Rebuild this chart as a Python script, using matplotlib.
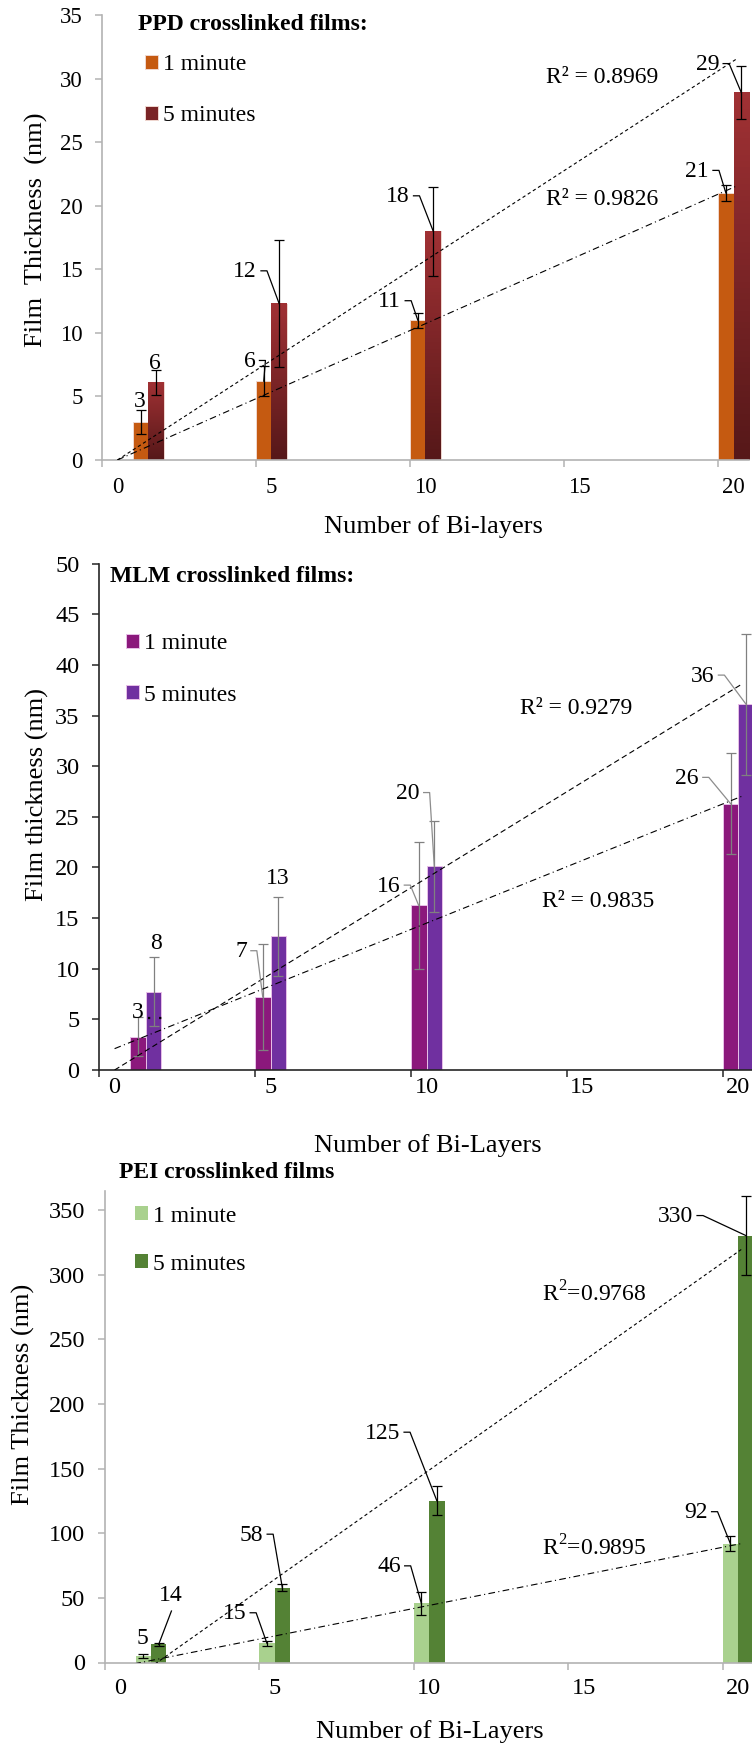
import matplotlib
matplotlib.use("Agg")
from matplotlib import pyplot as plt
from matplotlib.colors import LinearSegmentedColormap
import numpy as np

plt.rcParams['font.family'] = ['Liberation Serif', 'DejaVu Serif']
plt.rcParams['mathtext.fontset'] = 'custom'
plt.rcParams['mathtext.rm'] = 'Liberation Serif'

# data
bilayers = [1, 5, 10, 20]
x_ticks = [0, 5, 10, 15, 20]
series_names = ["1 minute", "5 minutes"]

ppd_1min = [3.0, 6.2, 11.0, 21.0]
ppd_1min_err = [0.95, 1.2, 0.6, 0.6]
ppd_5min = [6.1, 12.3, 18.0, 28.9]
ppd_5min_err = [0.95, 5.0, 3.5, 2.1]
ppd_r2 = ["0.9826", "0.8969"]

mlm_1min = [3.3, 7.2, 16.25, 26.3]
mlm_1min_err = [1.9, 5.2, 6.3, 5.0]
mlm_5min = [7.75, 13.2, 20.1, 36.1]
mlm_5min_err = [3.45, 3.9, 4.5, 7.0]
mlm_r2 = ["0.9835", "0.9279"]

pei_1min = [5.0, 15.0, 45.8, 91.9]
pei_1min_err = [1.5, 2.0, 9.0, 6.0]
pei_5min = [14.0, 58.0, 125.2, 330.3]
pei_5min_err = [1.0, 2.5, 11.0, 30.5]
pei_r2 = ["0.9895", "0.9768"]

W, H = 752, 1748
fig = plt.figure(figsize=(W / 100, H / 100), dpi=100)
fig.patch.set_facecolor('white')


def px_shift(ax, x, y, dx, dy):
    d = ax.transData.transform((x, y)) + np.array([dx, dy])
    return ax.transData.inverted().transform(d)


def draw_panel(rect, one, one_err, five, five_err, r2, cfg):
    l, t, w, h = rect
    ax = fig.add_axes([l / W, 1 - (t + h) / H, w / W, h / H])
    ax.set_xlim(0, 21)
    ax.set_ylim(0, cfg['ytop'])

    k = np.array(bilayers, float)
    bw = 0.5
    b1 = ax.bar(k, one, bw, align='edge', color=cfg['c1'],
                edgecolor=cfg['edge'], linewidth=0.7, zorder=2)
    b2 = ax.bar(k + bw, five, bw, align='edge', color=cfg['c2'],
                edgecolor=cfg['edge'], linewidth=0.7, zorder=2)
    if cfg.get('grad'):
        cmap = LinearSegmentedColormap.from_list('g', cfg['grad'])
        grad = np.linspace(0, 1, 64).reshape(-1, 1)
        for bar in b2:
            x0, y0 = bar.get_xy()
            ax.imshow(grad, cmap=cmap, origin='lower', aspect='auto',
                      extent=[x0, x0 + bar.get_width(), 0, bar.get_height()],
                      zorder=2.1)
        ax.set_xlim(0, 21)
        ax.set_ylim(0, cfg['ytop'])

    ax.errorbar(k + 0.25, one, yerr=one_err, fmt='none', ecolor=cfg['ecol'],
                elinewidth=0.9, capsize=3.5, capthick=0.9, zorder=3)
    ax.errorbar(k + 0.75, five, yerr=five_err, fmt='none', ecolor=cfg['ecol'],
                elinewidth=0.9, capsize=3.5, capthick=0.9, zorder=3)

    # linear trendlines
    kk = np.array([0.0, 20.1])
    for vals, origin, ls in zip((one, five), cfg['origin'], cfg['ls']):
        y = np.array(vals)
        if origin:
            slope, icpt = (k @ y) / (k @ k), 0.0
        else:
            slope, icpt = np.polyfit(k, y, 1)
        ax.plot(kk + 0.5, icpt + slope * kk, color='black', lw=0.8,
                ls=ls, zorder=4)

    # R² labels
    for txt, (rx, ry) in zip(r2, cfg['r2pos']):
        ax.text(rx, ry, cfg['r2fmt'].format(txt), ha='left', va='center',
                fontsize=17, zorder=5)

    # data labels with leader lines
    for vals, specs, off in ((one, cfg['labels'][0], 0.25),
                             (five, cfg['labels'][1], 0.75)):
        for kv, v, (kind, tx, ty) in zip(bilayers, vals, specs):
            top = (kv + off, v)
            s = f"{v:.0f}"
            if kind == 'stub':
                ax.text(tx, ty, s, ha='right', va='center', fontsize=17, zorder=5)
                p0 = px_shift(ax, tx, ty, 4, 1)
                p1 = px_shift(ax, tx, ty, 10, 1)
                ax.plot([p0[0], p1[0], top[0]], [p0[1], p1[1], top[1]],
                        color=cfg['lead'], lw=0.9, zorder=5)
            else:
                ax.text(tx, ty, s, ha='center', va='center', fontsize=17, zorder=5)
            if kind == 'dots':
                p0 = px_shift(ax, tx, ty, 10, -5)
                p1 = px_shift(ax, tx, ty, 28, -5)
                ax.plot([p0[0], p1[0]], [p0[1], p1[1]], color='black',
                        lw=1.6, ls=(0, (1, 4)), zorder=5)
            if kind == 'line':
                p0 = px_shift(ax, tx, ty, 1, -16)
                ax.plot([p0[0], top[0]], [p0[1], top[1]], color=cfg['lead'],
                        lw=0.9, zorder=5)

    # axes styling
    for side in ('top', 'right'):
        ax.spines[side].set_visible(False)
    for side in ('left', 'bottom'):
        ax.spines[side].set_color(cfg['axc'])
        ax.spines[side].set_linewidth(1.2)
    ax.set_yticks(np.arange(0, cfg['ytop'] + 0.01, cfg['ystep']))
    ax.set_xticks(x_ticks)
    ax.set_xticklabels([])
    ax.set_xticks([v + 0.5 for v in x_ticks], minor=True)
    ax.set_xticklabels([str(v) for v in x_ticks], minor=True)
    ax.tick_params(axis='both', which='major', direction='out', length=5,
                   width=1.1, color=cfg['axc'], labelsize=cfg['tfs'])
    ax.tick_params(axis='y', pad=9)
    ax.tick_params(axis='x', which='minor', length=0, labelsize=cfg['tfs'],
                   pad=cfg['xpad'])

    leg = ax.legend([b1, b2], series_names, loc='upper left',
                    bbox_to_anchor=(cfg['leg'][0] / W, 1 - cfg['leg'][1] / H),
                    bbox_transform=fig.transFigure, frameon=False, fontsize=17,
                    handlelength=0.55, handleheight=0.55, handletextpad=0.2,
                    labelspacing=cfg['lsp'], borderpad=0, borderaxespad=0)
    leg.set_zorder(6)

    fig.text(cfg['title_xy'][0] / W, 1 - cfg['title_xy'][1] / H, cfg['title'],
             ha='left', va='center', fontsize=17, fontweight='bold')
    fig.text(cfg['xl_xy'][0] / W, 1 - cfg['xl_xy'][1] / H, cfg['xlabel'],
             ha='center', va='center', fontsize=19)
    fig.text(cfg['yl_xy'][0] / W, 1 - cfg['yl_xy'][1] / H, cfg['ylabel'],
             ha='center', va='center', fontsize=19, rotation=90)
    return ax


draw_panel((102, 15, 647, 445), ppd_1min, ppd_1min_err, ppd_5min, ppd_5min_err,
           ppd_r2, dict(
               ytop=35, ystep=5, c1='#C55A11', c2='#7A2426',
               grad=['#561819', '#A03134'], edge='#F0D8D0',
               ecol='black', lead='black', axc='#B3B3B3',
               origin=(True, True), ls=((0, (6, 3, 1, 3)), (0, (3, 2.5))),
               r2pos=[(14.4, 20.45), (14.4, 30.1)], r2fmt="R² = {}",
               labels=[[('plain', 1.23, 4.6), ('stub', 4.98, 7.75),
                        ('stub', 9.71, 12.45), ('stub', 19.7, 22.7)],
                       [('plain', 1.72, 7.6), ('stub', 5.03, 14.8),
                        ('stub', 9.98, 20.7), ('stub', 20.03, 31.1)]],
               tfs=16.5, xpad=12, leg=(145, 54), lsp=1.27,
               title="PPD crosslinked films:", title_xy=(138, 25),
               xlabel="Number of Bi-layers", xl_xy=(433, 527),
               ylabel="Film  Thickness  (nm)", yl_xy=(36, 230)))

draw_panel((99, 563.7, 655, 506.3), mlm_1min, mlm_1min_err, mlm_5min, mlm_5min_err,
           mlm_r2, dict(
               ytop=50, ystep=5, c1='#8B187C', c2='#7030A0', edge='#E8C0E8',
               ecol='#808080', lead='#8C8C8C', axc='#262626',
               origin=(False, True), ls=((0, (6, 3, 1, 3)), (0, (5, 3))),
               r2pos=[(14.2, 16.6), (13.5, 35.7)], r2fmt="R² = {}",
               labels=[[('dots', 1.25, 5.67), ('stub', 4.74, 11.68),
                        ('stub', 9.66, 18.16), ('stub', 19.23, 28.8)],
                       [('plain', 1.83, 12.47), ('plain', 5.74, 18.9),
                        ('stub', 10.28, 27.3), ('stub', 19.73, 38.9)]],
               tfs=17.5, xpad=5, leg=(126, 633), lsp=1.3,
               title="MLM crosslinked films:", title_xy=(110, 576),
               xlabel="Number of Bi-Layers", xl_xy=(428, 1146),
               ylabel="Film thickness (nm)", yl_xy=(37, 795)))

draw_panel((104.6, 1190.7, 649, 471.8), pei_1min, pei_1min_err, pei_5min, pei_5min_err,
           pei_r2, dict(
               ytop=365, ystep=50, c1='#A9D18E', c2='#548235', edge='none',
               ecol='black', lead='black', axc='#B3B3B3',
               origin=(False, False), ls=((0, (6, 3, 1, 3)), (0, (3, 2.5))),
               r2pos=[(14.16, 88.5), (14.16, 285.5)], r2fmt=r"R$^{{2}}$={}",
               labels=[[('plain', 1.24, 18.9), ('stub', 4.58, 37.7),
                        ('stub', 9.58, 74), ('stub', 19.51, 115.9)],
                       [('line', 2.13, 52.2), ('stub', 5.13, 98.5),
                        ('stub', 9.56, 177.4), ('stub', 19.04, 345)]],
               tfs=17.5, xpad=11, leg=(135, 1205.5), lsp=1.15,
               title="PEI crosslinked films", title_xy=(119, 1173),
               xlabel="Number of Bi-Layers", xl_xy=(430, 1732),
               ylabel="Film Thickness (nm)", yl_xy=(23, 1394)))

fig.savefig("out.png", dpi=100, facecolor='white')
